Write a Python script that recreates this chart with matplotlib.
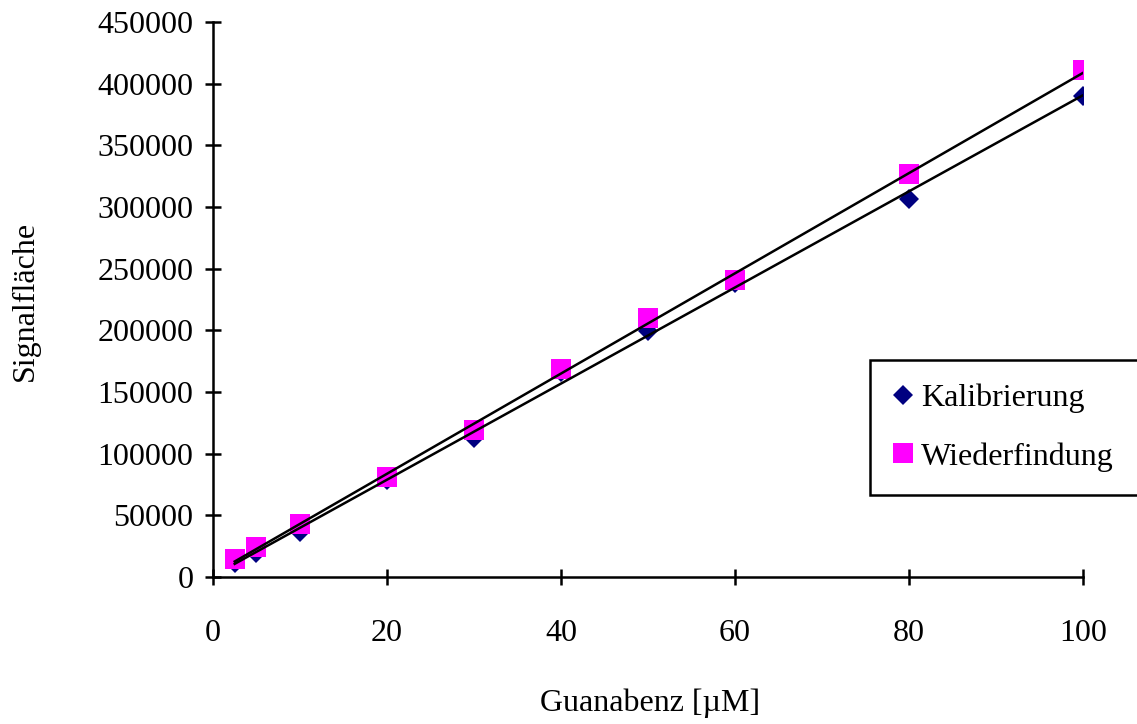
import matplotlib
matplotlib.use('Agg')
import matplotlib.pyplot as plt
import numpy as np

plt.rcParams['font.family'] = ['Liberation Serif', 'DejaVu Serif']

# Konzentrationen [uM]
konz = [2.5, 5, 10, 20, 30, 40, 50, 60, 80, 100]
# Signalflaechen
kalibrierung = [11000, 19500, 36500, 78500, 112500, 166500, 199500, 238000, 306500, 390000]
wiederfindung = [15000, 24000, 43000, 81500, 119000, 168500, 210000, 241000, 326500, 411000]

fig = plt.figure(figsize=(11.37, 7.24), dpi=100)
ax = fig.add_axes([0.1873, 0.2030, 0.7652, 0.7666])

x = np.array(konz)
# lineare Trendlinien
for y in (kalibrierung, wiederfindung):
    m, b = np.polyfit(x, y, 1)
    xx = np.array([x.min(), x.max()])
    ax.plot(xx, m * xx + b, color='black', lw=1.8, zorder=3)

# Quadrate liegen ueber den Rauten
ax.plot(konz, kalibrierung, 'D', color='#000080', ms=10, mew=0,
        label='Kalibrierung', zorder=1)
ax.plot(konz, wiederfindung, 's', color='#ff00ff', ms=14, mew=0,
        label='Wiederfindung', zorder=2)

ax.set_xlim(0, 100)
ax.set_ylim(0, 450000)
ax.set_xticks([0, 20, 40, 60, 80, 100])
ax.set_yticks(np.arange(0, 450001, 50000))
ax.spines['top'].set_visible(False)
ax.spines['right'].set_visible(False)
for s in ('left', 'bottom'):
    ax.spines[s].set_linewidth(1.8)
ax.tick_params(direction='inout', length=12, width=1.8, labelsize=23)
ax.tick_params(axis='x', pad=24)
ax.tick_params(axis='y', pad=8)

fig.text(0.572, 0.008, 'Guanabenz [µM]', fontsize=23, ha='center', va='bottom')
fig.text(0.022, 0.585, 'Signalfläche', fontsize=23, rotation=90,
         ha='center', va='center')

leg = ax.legend(loc='upper left', bbox_to_anchor=(0.765, 0.503),
                bbox_transform=fig.transFigure, fontsize=23, frameon=True,
                fancybox=False, edgecolor='black', framealpha=1,
                handlelength=0.6, handletextpad=0.25, labelspacing=0.9,
                borderpad=0.75, borderaxespad=0)
leg.get_frame().set_linewidth(1.8)

fig.savefig('out.png', dpi=100)
